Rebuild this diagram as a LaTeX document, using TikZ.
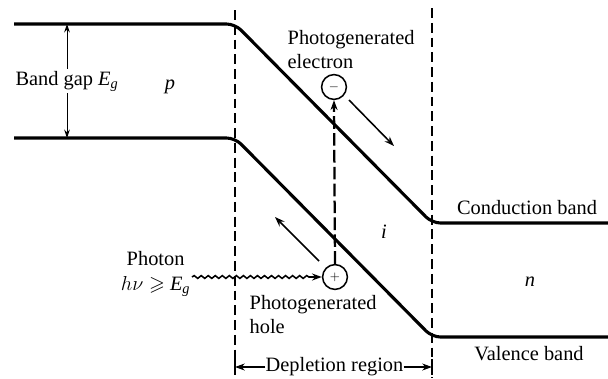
\documentclass[tikz,border=0pt]{standalone}
\usepackage{fontspec}
\setmainfont{Liberation Serif}
\usepackage{amsmath}
\usepackage{amssymb}
\usetikzlibrary{positioning, arrows.meta, decorations.pathmorphing}

\newcommand{\Egap}{\textit{E}\textsubscript{\textit{g}}}

\begin{document}
\begin{tikzpicture}[
    x=0.025cm, y=-0.025cm,
    font=\fontsize{14.5}{16.5}\selectfont,
    band/.style={line width=2.2pt, rounded corners=6pt},
    bound/.style={line width=0.9pt, dash pattern=on 7pt off 3.5pt},
    carrier/.style={draw, circle, line width=1.1pt, minimum size=0.62cm, inner sep=0pt},
    arr/.style={-{Stealth[length=7pt, width=5pt]}, line width=1.1pt},
    lbl/.style={align=left, inner sep=1pt}
]
    \useasboundingbox (0,0) rectangle (608,378);

    % band edges
    \coordinate (cbL) at (14,24);   \coordinate (cbR) at (608,223);
    \coordinate (vbL) at (14,138);  \coordinate (vbR) at (608,337);
    \draw[band] (cbL) -- (235,24) -- (432,223) -- (cbR);
    \draw[band] (vbL) -- (235,138) -- (432,337) -- (vbR);

    % depletion region boundaries
    \coordinate (bL) at (235,10);  \coordinate (bLend) at (235,378);
    \coordinate (bR) at (432,8);   \coordinate (bRend) at (432,378);
    \draw[bound] (bL) -- (bLend);
    \draw[bound] (bR) -- (bRend);

    % band gap
    \coordinate (gapT) at (67,24);
    \coordinate (gapB) at (67,138);
    \draw[{Stealth[length=6pt, width=4pt]}-{Stealth[length=6pt, width=4pt]}, line width=0.7pt] (gapT) -- node[fill=white, inner sep=1pt] (gap) {Band gap \Egap} (gapB);

    \node (pside) at (170,87) {\textit{p}};
    \node (iside) at (384,232) {\textit{i}};
    \node (nside) at (530,282) {\textit{n}};
    \node (cb) at (527,208) {Conduction band};
    \node (vb) at (529,354) {Valence band};

    % carriers
    \node[carrier] (elec) at (334,87) {\small$-$};
    \node[carrier] (hole) at (335,277) {\small$+$};
    \node[lbl, anchor=south west] (elbl) at (286,70) {Photogenerated\\electron};
    \node[lbl, anchor=north west] (hlbl) at (248,294) {Photogenerated\\hole};

    \draw[arr, line width=1.6pt, dash pattern=on 9pt off 3pt] (hole.north) -- (elec.south);

    \coordinate (eFrom) at (349,100);
    \coordinate (hFrom) at (319,261);
    \draw[arr] (eFrom) -- ++(45,46);
    \draw[arr] (hFrom) -- ++(-44,-44);

    % photon
    \node[align=center, inner sep=1pt, anchor=east] (photon) at (192,274) {Photon\\[1pt]$h\nu \geqslant$ \Egap};
    \draw[arr, decorate, decoration={snake, amplitude=1pt, segment length=5pt, post length=8pt}] (photon.east |- hole.west) -- (hole.west);

    % depletion width
    \node[inner sep=0pt] (dep) at (334.5,367) {Depletion region};
    \coordinate (dL) at (235,367);
    \coordinate (dR) at (432,367);
    \draw[arr, line width=0.8pt] (dep.west) -- (dL);
    \draw[arr, line width=0.8pt] (dep.east) -- (dR);
    \draw[line width=0.9pt] (235,359) -- (235,375);
    \draw[line width=0.9pt] (432,359) -- (432,375);
\end{tikzpicture}
\end{document}
